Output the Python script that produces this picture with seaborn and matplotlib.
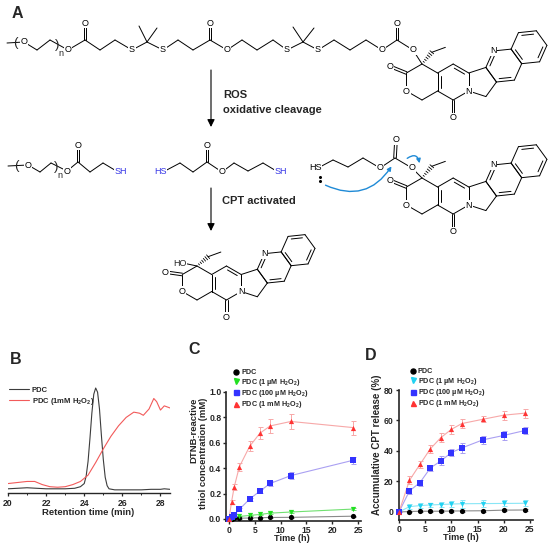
import numpy as np
import pandas as pd
import matplotlib
matplotlib.use("Agg")
import matplotlib.pyplot as plt
from matplotlib.lines import Line2D
from matplotlib.patches import FancyArrowPatch
from matplotlib.ticker import FormatStrFormatter, MultipleLocator
import seaborn as sns

# ---------------- data ----------------
# B: GPC traces (normalised signal vs retention time, min)
gpc_t_pdc = [20.0, 20.5, 21.0, 21.5, 22.0, 22.5, 23.0, 23.5, 23.8, 24.0, 24.1, 24.2,
             24.3, 24.4, 24.5, 24.6, 24.7, 24.8, 24.9, 25.0, 25.1, 25.2, 25.3, 25.6,
             26.0, 26.5, 27.0, 27.5, 28.0, 28.2, 28.5]
gpc_pdc = [0.04, 0.045, 0.05, 0.045, 0.04, 0.04, 0.04, 0.045, 0.06, 0.09, 0.16, 0.30,
           0.52, 0.76, 0.94, 1.0, 0.96, 0.80, 0.55, 0.32, 0.15, 0.07, 0.04, 0.03,
           0.03, 0.03, 0.03, 0.035, 0.035, 0.04, 0.035]
gpc_t_h2o2 = [20.0, 20.5, 21.0, 21.4, 21.8, 22.2, 22.6, 23.0, 23.4, 23.8, 24.2, 24.6,
              25.0, 25.4, 25.8, 26.2, 26.6, 26.9, 27.1, 27.4, 27.65, 27.8, 28.0, 28.2,
              28.35, 28.5]
gpc_h2o2 = [0.09, 0.10, 0.11, 0.11, 0.08, 0.06, 0.055, 0.06, 0.08, 0.11, 0.17, 0.29,
            0.42, 0.54, 0.64, 0.72, 0.77, 0.76, 0.74, 0.80, 0.90, 0.87, 0.79, 0.83,
            0.82, 0.81]

# C: DTNB-reactive thiol concentration (mM)
thiol_t = [0, 0.5, 1, 2, 4, 6, 8, 12, 24]
thiol_pdc = [0, 0.002, 0.004, 0.006, 0.008, 0.010, 0.012, 0.013, 0.022]
thiol_pdc_err = [0, 0.002, 0.002, 0.003, 0.003, 0.003, 0.004, 0.004, 0.005]
thiol_1um = [0, 0.006, 0.012, 0.020, 0.028, 0.036, 0.046, 0.055, 0.078]
thiol_1um_err = [0, 0.003, 0.004, 0.005, 0.005, 0.006, 0.006, 0.007, 0.008]
thiol_100um = [0, 0.015, 0.035, 0.075, 0.157, 0.220, 0.280, 0.342, 0.462]
thiol_100um_err = [0, 0.005, 0.008, 0.010, 0.012, 0.015, 0.018, 0.025, 0.030]
thiol_1mm = [0, 0.135, 0.250, 0.410, 0.572, 0.676, 0.733, 0.768, 0.720]
thiol_1mm_err = [0, 0.015, 0.025, 0.030, 0.040, 0.050, 0.055, 0.060, 0.055]

# D: accumulative CPT release (%)
rel_t = [0, 2, 4, 6, 8, 10, 12, 16, 20, 24]
rel_pdc = [0, 0.3, 0.5, 0.5, 0.5, 0.6, 0.7, 0.8, 1.2, 1.3]
rel_pdc_err = [0, 0.4, 0.4, 0.4, 0.5, 0.5, 0.5, 0.5, 0.6, 0.6]
rel_1um = [0, 3.5, 4.2, 4.6, 4.9, 5.2, 5.4, 5.5, 5.6, 5.7]
rel_1um_err = [0, 1.5, 1.5, 1.5, 1.8, 2.0, 2.5, 2.5, 2.0, 2.0]
rel_100um = [0, 13.8, 19.3, 28.9, 33.5, 39.0, 42.0, 47.3, 50.2, 53.4]
rel_100um_err = [0, 2.0, 2.0, 1.8, 3.0, 2.5, 3.0, 2.5, 3.0, 2.5]
rel_1mm = [0, 20.8, 31.2, 41.5, 48.8, 54.2, 58.0, 60.8, 63.5, 64.8]
rel_1mm_err = [0, 2.5, 2.5, 2.5, 3.0, 3.0, 3.0, 2.0, 3.0, 3.0]

labels = ["PDC", "PDC (1 µM H$_2$O$_2$)", "PDC (100 µM H$_2$O$_2$)", "PDC (1 mM H$_2$O$_2$)"]

# ---------------- style ----------------
sns.set_style("ticks")
plt.rcParams["font.family"] = ["Liberation Sans", "DejaVu Sans"]
plt.rcParams["font.weight"] = "bold"
plt.rcParams["axes.labelweight"] = "bold"
plt.rcParams["mathtext.fontset"] = "custom"
plt.rcParams["mathtext.rm"] = "Liberation Sans:bold"
plt.rcParams["mathtext.bf"] = "Liberation Sans:bold"
plt.rcParams["mathtext.it"] = "Liberation Sans:bold"
plt.rcParams["mathtext.default"] = "bf"

fig = plt.figure(figsize=(5.5, 5.51), dpi=100)

# ---------------- panel A: reaction scheme (pixel canvas) ----------------
ax = fig.add_axes([0, 0, 1, 1])
ax.set_xlim(0, 550)
ax.set_ylim(551, 0)
ax.axis("off")

LW = 0.7
BLUE_TXT = "#3535e6"
ARROW_BLUE = "#1f8ad6"


def unit(deg):
    r = np.radians(deg)
    return np.array([np.cos(r), -np.sin(r)])  # canvas y runs downwards


def line(p, q, color="k", lw=LW):
    ax.plot([p[0], q[0]], [p[1], q[1]], color=color, lw=lw, solid_capstyle="round", zorder=2)


def atom(p, s, color="k", ha="center", dx=0):
    ax.text(p[0] + dx, p[1], s, ha=ha, va="center", fontsize=6.5, fontweight="normal",
            color=color, zorder=5,
            bbox=dict(boxstyle="square,pad=0.08", fc="white", ec="none"))


def carbonyl(p, q, off=1.3):
    p = np.asarray(p, float)
    q = np.asarray(q, float)
    d = (q - p) / np.linalg.norm(q - p)
    n = np.array([-d[1], d[0]])
    line(p + n * off, q + n * off)
    line(p - n * off, q - n * off)
    atom(q, "O")


def inner(p, q, c, L):
    p = np.asarray(p, float)
    q = np.asarray(q, float)
    d = q - p
    n = np.array([-d[1], d[0]]) / np.linalg.norm(d)
    if np.dot(c - (p + q) / 2, n) < 0:
        n = -n
    a = p + d * 0.17 + n * 0.17 * L
    b = q - d * 0.17 + n * 0.17 * L
    line(a, b)


def chain(pts):
    for p, q in zip(pts[:-1], pts[1:]):
        line(p, q)


def ring_walk(c, start, last, L):
    a0 = np.arctan2(start[1] - c[1], start[0] - c[0])
    for sgn in (1, -1):
        v = [c + L * np.array([np.cos(a0 + sgn * k * np.pi / 3),
                               np.sin(a0 + sgn * k * np.pi / 3)]) for k in range(6)]
        if np.linalg.norm(v[5] - last) < 0.5:
            return v
    return v


def polygon(v):
    for i in range(len(v)):
        line(v[i], v[(i + 1) % len(v)])


def camptothecin(c20, L, hydroxy=False, co_ang=158, wedge_ang=50):
    c20 = np.array(c20, float)
    s3 = np.sqrt(3) / 2
    ce = c20 + np.array([0, L])
    E = [ce + L * unit(a) for a in (90, 150, 210, 270, 330, 30)]
    cd = ce + np.array([2 * s3 * L, 0])
    D = [cd + L * unit(a) for a in (90, 150, 210, 270, 330, 30)]
    a5 = L / (2 * np.tan(np.radians(36)))
    r5 = L / (2 * np.sin(np.radians(36)))
    cp = cd + np.array([s3 * L + a5, 0])
    P = [cp + r5 * unit(a) for a in (144, 72, 0, 288, 216)]
    mid = (P[1] + P[2]) / 2
    nrm = (mid - cp) / np.linalg.norm(mid - cp)
    cb = mid + nrm * s3 * L
    ca = cb + nrm * 2 * s3 * L
    B = ring_walk(cb, P[1], P[2], L)
    A = ring_walk(ca, B[2], B[3], L)
    for ring in (E, D, P, B, A):
        polygon(ring)
    inner(D[0], D[5], cd, L)
    inner(D[1], D[2], cd, L)
    inner(B[0], B[1], cb, L)
    inner(B[4], B[5], cb, L)
    inner(A[1], A[2], ca, L)
    inner(A[3], A[4], ca, L)
    inner(A[5], A[0], ca, L)
    carbonyl(E[1], E[1] + L * unit(co_ang))
    carbonyl(D[3], D[3] + L * unit(270))
    atom(E[2], "O")
    atom(D[4], "N")
    atom(B[1], "N")
    # hashed wedge to the ethyl group
    q1 = c20 + 0.85 * L * unit(wedge_ang)
    d = q1 - c20
    n = np.array([-d[1], d[0]]) / np.linalg.norm(d)
    for t in np.linspace(0.18, 1.0, 6):
        w = 0.4 + 2.0 * t
        m = c20 + d * t
        line(m - n * w, m + n * w, lw=0.6)
    line(q1, q1 + 0.8 * L * unit(20))
    if hydroxy:
        o = c20 + 0.8 * L * unit(168)
        line(c20, o)
        ax.text(o[0] + 3, o[1], "HO", ha="right", va="center", fontsize=6.5,
                fontweight="normal", zorder=5,
                bbox=dict(boxstyle="square,pad=0.08", fc="white", ec="none"))


def bracket(x0, y0, x1, y1, nx, ny):
    ax.text(x0, y0, "(", ha="center", va="center", fontsize=9.5, fontweight="normal", zorder=6)
    ax.text(x1, y1, ")", ha="center", va="center", fontsize=9.5, fontweight="normal", zorder=6)
    ax.text(nx, ny, "n", ha="center", va="center", fontsize=6.5, fontweight="normal", zorder=6)


# row 1: PDC
r1 = [(24, 42), (37, 50), (50, 40), (68, 50), (85, 40), (100, 50), (115, 40), (132, 50),
      (147, 42), (163, 50), (178, 40), (193, 50), (210, 40), (227, 50), (242, 40),
      (257, 50), (273, 40), (287, 50), (303, 42), (318, 50), (334, 40), (350, 50),
      (366, 40), (382, 50), (397, 40), (413, 50), (422, 64)]
line((7, 43), (24, 42))
chain(r1)
for i, s in [(0, "O"), (3, "O"), (7, "S"), (9, "S"), (13, "O"), (17, "S"), (19, "S"),
             (23, "O"), (25, "O")]:
    atom(r1[i], s)
for i in (4, 12, 24):
    carbonyl(r1[i], (r1[i][0], 23))
for i, (m1, m2) in [(8, ((139, 26), (157, 28))), (18, ((293, 27), (314, 28)))]:
    line(r1[i], m1)
    line(r1[i], m2)
bracket(15, 43, 57, 45, 61, 54)
camptothecin((422, 64), 18)

# row 2: cleavage products
r2a = [(28, 165), (40, 172), (51, 163), (67, 171), (78, 162), (90, 172), (103, 163), (118, 172)]
line((8, 166), (28, 165))
chain(r2a)
atom(r2a[0], "O")
atom(r2a[3], "O")
carbonyl(r2a[4], (78, 145))
atom(r2a[7], "SH", color=BLUE_TXT, ha="left", dx=-3.5)
bracket(16, 166, 56, 167, 60, 175)

r2b = [(163, 172), (180, 163), (193, 172), (207, 162), (222, 172), (234, 163), (248, 171),
       (263, 163), (278, 172)]
chain(r2b)
atom(r2b[0], "HS", color=BLUE_TXT, ha="right", dx=3.5)
atom(r2b[4], "O")
carbonyl(r2b[3], (207, 145))
atom(r2b[8], "SH", color=BLUE_TXT, ha="left", dx=-3.5)

r2c = [(318, 168), (333, 160), (348, 167), (363, 158), (380, 168), (395, 158), (412, 168),
       (422, 178)]
chain(r2c)
atom(r2c[0], "HS", ha="right", dx=3.5)
atom(r2c[4], "O")
atom(r2c[6], "O")
carbonyl(r2c[5], (396, 140))
ax.plot([320, 320], [177, 181], "o", color="k", ms=1.2, zorder=6)
camptothecin((422, 178), 18)
ax.add_patch(FancyArrowPatch((323, 184), (393, 164), connectionstyle="arc3,rad=0.45",
                             arrowstyle="-|>", mutation_scale=6, lw=1.0,
                             color=ARROW_BLUE, zorder=7))
ax.add_patch(FancyArrowPatch((405, 160), (420, 166), connectionstyle="arc3,rad=-0.9",
                             arrowstyle="-|>", mutation_scale=6, lw=1.0,
                             color=ARROW_BLUE, zorder=7))

# row 3: released CPT
camptothecin((197, 266), 17, hydroxy=True, co_ang=172, wedge_ang=40)

# reaction arrows and captions
for y0, y1 in [(70, 127), (188, 231)]:
    ax.annotate("", xy=(211, y1), xytext=(211, y0),
                arrowprops=dict(arrowstyle="-|>", mutation_scale=11, lw=0.8, color="k",
                                shrinkA=0, shrinkB=0))
ax.text(223, 95, "ROS", ha="left", va="center", fontsize=8)
ax.text(223, 110, "oxidative cleavage", ha="left", va="center", fontsize=8)
ax.text(222, 201, "CPT activated", ha="left", va="center", fontsize=8)

for s, x, y in [("A", 12, 13), ("B", 10, 360), ("C", 188, 350), ("D", 365, 356)]:
    ax.text(x, y, s, ha="left", va="center", fontsize=11.5)

# ---------------- panel B: GPC ----------------
axB = fig.add_axes([8 / 550, (551 - 493) / 551, 162 / 550, 115.5 / 551])
gpc = pd.concat([
    pd.DataFrame({"t": gpc_t_pdc, "signal": gpc_pdc, "sample": "PDC"}),
    pd.DataFrame({"t": gpc_t_h2o2, "signal": gpc_h2o2, "sample": "PDC (1mM H$_2$O$_2$)"}),
])
sns.lineplot(data=gpc, x="t", y="signal", hue="sample", palette=["#3c3c3c", "#f25a5a"],
             lw=0.8, ax=axB)
axB.set_xlim(20, 28.5)
axB.set_ylim(0, 1.1)
axB.set_xticks([20, 22, 24, 26, 28])
axB.xaxis.set_minor_locator(MultipleLocator(1))
axB.set_yticks([])
for side in ("left", "top", "right"):
    axB.spines[side].set_visible(False)
axB.spines["bottom"].set_linewidth(1.0)
axB.tick_params(axis="x", which="major", direction="out", length=2.5, width=0.9,
                labelsize=6.2, pad=1.5)
axB.tick_params(axis="x", which="minor", direction="out", length=1.5, width=0.7)
axB.set_xlabel("Retention time (min)", fontsize=6.8)
axB.set_ylabel("")
axB.xaxis.set_label_coords(0.494, -0.13)
axB.legend(loc="upper left", bbox_to_anchor=(-0.01, 0.95), frameon=False, fontsize=5.5,
           handlelength=2.6, handletextpad=0.3, labelspacing=0.25, borderaxespad=0,
           title=None)


# ---------------- panels C and D ----------------
def kinetics(axk, t, series, markers, mcolors, lcolors):
    for (v, e), mk, mc, lc in zip(series, markers, mcolors, lcolors):
        sns.lineplot(x=t, y=v, color=lc, lw=0.8, ax=axk, zorder=1)
        axk.errorbar(t, v, yerr=e, fmt="none", ecolor=lc, elinewidth=0.7, capsize=1.8,
                     capthick=0.7, zorder=2)
        sns.scatterplot(x=t, y=v, marker=mk, color=mc, s=14, linewidth=0, ax=axk,
                        zorder=3, clip_on=False)
    handles = [Line2D([], [], marker=mk, color=mc, ls="none", ms=3.6)
               for mk, mc in zip(markers, mcolors)]
    return handles


def style_axes(axk):
    sns.despine(ax=axk)
    for side in ("left", "bottom"):
        axk.spines[side].set_linewidth(1.2)
    axk.tick_params(direction="out", length=2.5, width=1.0, labelsize=6.2, pad=1.2)


axC = fig.add_axes([226.4 / 550, (551 - 520.9) / 551, 134.2 / 550, 128.9 / 551])
hC = kinetics(axC, thiol_t,
              [(thiol_pdc, thiol_pdc_err), (thiol_1um, thiol_1um_err),
               (thiol_100um, thiol_100um_err), (thiol_1mm, thiol_1mm_err)],
              ["o", "v", "s", "^"],
              ["#000000", "#22e022", "#3333ff", "#ff3333"],
              ["#8a8a8a", "#70e070", "#aaa0f2", "#f7a8a8"])
axC.set_xlim(-0.5, 25.5)
axC.set_ylim(-0.015, 1.0)
axC.set_xticks([0, 5, 10, 15, 20, 25])
axC.set_yticks([0, 0.2, 0.4, 0.6, 0.8, 1.0])
axC.yaxis.set_major_formatter(FormatStrFormatter("%.1f"))
style_axes(axC)
axC.set_xlabel("Time (h)", fontsize=6.6)
axC.set_ylabel("DTNB-reactive\nthiol concentration (mM)", fontsize=6.8,
               multialignment="right", linespacing=1.05)
axC.xaxis.set_label_coords(0.49, -0.1)
axC.yaxis.set_label_coords(-0.14, 0.523)
axC.legend(hC, labels, loc="upper left", bbox_to_anchor=(0.03, 1.2), frameon=False,
           fontsize=5.2, handlelength=0.8, handletextpad=0.3, labelspacing=0.05,
           borderaxespad=0)

axD = fig.add_axes([399 / 550, (551 - 519.6) / 551, 133.6 / 550, 129.6 / 551])
hD = kinetics(axD, rel_t,
              [(rel_pdc, rel_pdc_err), (rel_1um, rel_1um_err),
               (rel_100um, rel_100um_err), (rel_1mm, rel_1mm_err)],
              ["o", "v", "s", "^"],
              ["#000000", "#22d2f2", "#3333ff", "#ff3333"],
              ["#8a8a8a", "#88e6f6", "#aaa0f2", "#f7a8a8"])
axD.set_xlim(0, 25.5)
axD.set_ylim(-5, 80)
axD.set_xticks([0, 5, 10, 15, 20, 25])
axD.set_yticks([0, 20, 40, 60, 80])
style_axes(axD)
axD.set_xlabel("Time (h)", fontsize=6.6)
axD.set_ylabel("Accumulative CPT release (%)", fontsize=7.0)
axD.xaxis.set_label_coords(0.46, -0.1)
axD.yaxis.set_label_coords(-0.13, 0.576)
axD.legend(hD, labels, loc="upper left", bbox_to_anchor=(0.06, 1.19), frameon=False,
           fontsize=5.2, handlelength=0.8, handletextpad=0.3, labelspacing=0.05,
           borderaxespad=0)

fig.savefig("out.png", dpi=100)
